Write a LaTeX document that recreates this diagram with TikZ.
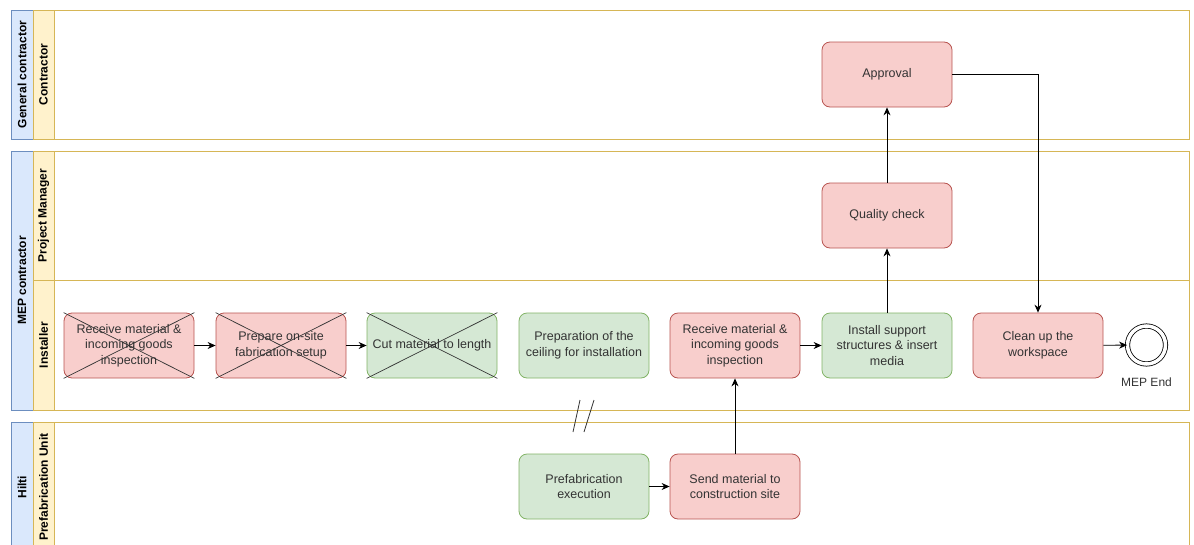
\documentclass[tikz,border=0pt]{standalone}
\usepackage{fontspec}
\setmainfont{Liberation Sans}
\usetikzlibrary{arrows.meta,positioning}
\definecolor{redfill}{HTML}{F8CECC}
\definecolor{redline}{HTML}{B85450}
\definecolor{greenfill}{HTML}{D5E8D4}
\definecolor{greenline}{HTML}{82B366}
\definecolor{lanefill}{HTML}{FFF2CC}
\definecolor{laneline}{HTML}{D6B656}
\definecolor{poolfill}{HTML}{DAE8FC}
\definecolor{poolline}{HTML}{6C8EBF}
\definecolor{txt}{HTML}{333333}

\begin{document}
\begin{tikzpicture}[x=1pt,y=-1pt,
  task/.style={draw,rounded corners=8pt,minimum width=130pt,minimum height=65pt,
    inner sep=3pt,align=center,text=txt,line width=0.8pt,
    font=\fontsize{12.5}{15.5}\selectfont},
  redtask/.style={task,draw=redline,fill=redfill},
  greentask/.style={task,draw=greenline,fill=greenfill},
  poolhead/.style={draw=poolline,fill=poolfill,line width=0.8pt},
  lanehead/.style={draw=laneline,fill=lanefill,line width=0.8pt},
  lanebody/.style={draw=laneline,line width=0.8pt},
  headtext/.style={rotate=90,font=\fontsize{12}{14}\selectfont\bfseries},
  flow/.style={-{Stealth[length=8pt,width=7pt]},line width=0.8pt},
  strike/.style={draw=black!80,line width=0.7pt}]
\useasboundingbox (0,0) rectangle (1194,544);
\clip (0,0) rectangle (1194,544);

% pools and lanes
\draw[lanebody] (54,10) rectangle (1189,139);
\draw[poolhead] (11,10) rectangle (33,139);
\draw[lanehead] (33,10) rectangle (54,139);
\node[headtext] (gc) at (22,74.5) {General contractor};
\node[headtext] (gcl) at (43.5,74.5) {Contractor};

\draw[lanebody] (54,151) rectangle (1189,280);
\draw[lanebody] (54,280) rectangle (1189,410);
\draw[poolhead] (11,151) rectangle (33,410);
\draw[lanehead] (33,151) rectangle (54,280);
\draw[lanehead] (33,280) rectangle (54,410);
\node[headtext] (mep) at (22,280.5) {MEP contractor};
\node[headtext] (pm) at (43.5,215.5) {Project Manager};
\node[headtext] (inst) at (43.5,345) {Installer};

\draw[lanebody] (54,422) rectangle (1189,552);
\draw[poolhead] (11,422) rectangle (33,552);
\draw[lanehead] (33,422) rectangle (54,552);
\node[headtext] (hilti) at (22,487) {Hilti};
\node[headtext] (pu) at (43.5,487) {Prefabrication Unit};

% tasks
\node[redtask] (recv1) at (129,345.5) {Receive material \&\\incoming goods\\inspection};
\node[redtask] (prep) at (281,345.5) {Prepare on-site\\fabrication setup};
\node[greentask] (cut) at (432,345.5) {Cut material to length};
\node[greentask] (ceil) at (584,345.5) {Preparation of the\\ceiling for installation};
\node[redtask] (recv2) at (735,345.5) {Receive material \&\\incoming goods\\inspection};
\node[greentask] (inst2) at (887,345.5) {Install support\\structures \& insert\\media};
\node[redtask] (clean) at (1038,345.5) {Clean up the\\workspace};
\node[redtask] (qc) at (887,215.5) {Quality check};
\node[redtask] (appr) at (887,74.5) {Approval};
\node[greentask] (prefab) at (584,486.5) {Prefabrication\\execution};
\node[redtask] (send) at (735,486.5) {Send material to\\construction site};

\node[circle,draw,line width=0.8pt,double,double distance=3.5pt,minimum size=38pt] (end) at (1146.5,345) {};
\node[text=txt,font=\fontsize{12}{14}\selectfont] (endl) at (1146.5,382) {MEP End};

% crossed out tasks
\foreach \t in {recv1,prep,cut}{
  \draw[strike] (\t.north west) -- (\t.south east);
  \draw[strike] (\t.south west) -- (\t.north east);
}

% flows
\draw[flow] (recv1) -- (prep);
\draw[flow] (prep) -- (cut);
\draw[flow] (recv2) -- (inst2);
\draw[flow] (inst2) -- (qc);
\draw[flow] (qc) -- (appr);
\draw[flow] (appr.east) -| (clean.north);
\draw[flow] (clean) -- (end);
\draw[flow] (prefab) -- (send);
\draw[flow] (send) -- (recv2);

% break mark
\draw[line width=0.8pt,black!80] (580,400) -- (573,432);
\draw[line width=0.8pt,black!80] (594,400) -- (584,432);
\end{tikzpicture}
\end{document}
